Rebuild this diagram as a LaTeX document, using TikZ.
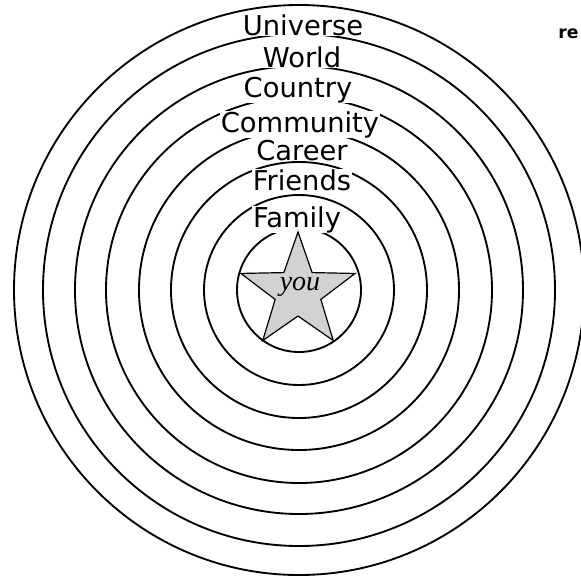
\documentclass[tikz,border=0pt]{standalone}
\usepackage{fontspec}
\setmainfont{DejaVu Sans}
\newfontfamily\handfont{Liberation Serif}
\usetikzlibrary{shapes.geometric}

\newcommand*{\cx}{299}
\newcommand*{\cy}{290}

\begin{document}
\begin{tikzpicture}
[
	x=0.75pt,y=-0.75pt,
	ring/.style={draw,line width=1.4pt},
	ringname/.style={anchor=base,fill=white,inner sep=0.5pt,font=\fontsize{20.5}{22}\selectfont},
	bigstar/.style={star,star points=5,star point ratio=2.5,minimum size=90pt,inner sep=0pt,draw,fill=gray!35,line width=0.9pt}
]

	\clip (0,0) rectangle (581,579);

	% rings
	\foreach \r in {62,95,128,160,193,224,256,285} {
		\draw[ring] (\cx,\cy) circle (\r);
	}

	% names of the rings
	\node[ringname] (universe) at (303,35) {Universe};
	\node[ringname] (world) at (302,67) {World};
	\node[ringname] (country) at (298,97) {Country};
	\node[ringname] (community) at (300,132) {Community};
	\node[ringname] (career) at (302,160) {Career};
	\node[ringname] (friends) at (302,190) {Friends};
	\node[ringname] (family) at (297,227) {Family};

	% centre
	\node[bigstar] (star) at (298,292) {};
	\node[font=\handfont\itshape\fontsize{21}{21}\selectfont] (you) at (300,287) {you};

	% near the edge
	\node[anchor=base west,inner sep=0pt,font=\bfseries\fontsize{13}{13}\selectfont] (cut) at (558,38) {re};

\end{tikzpicture}
\end{document}
